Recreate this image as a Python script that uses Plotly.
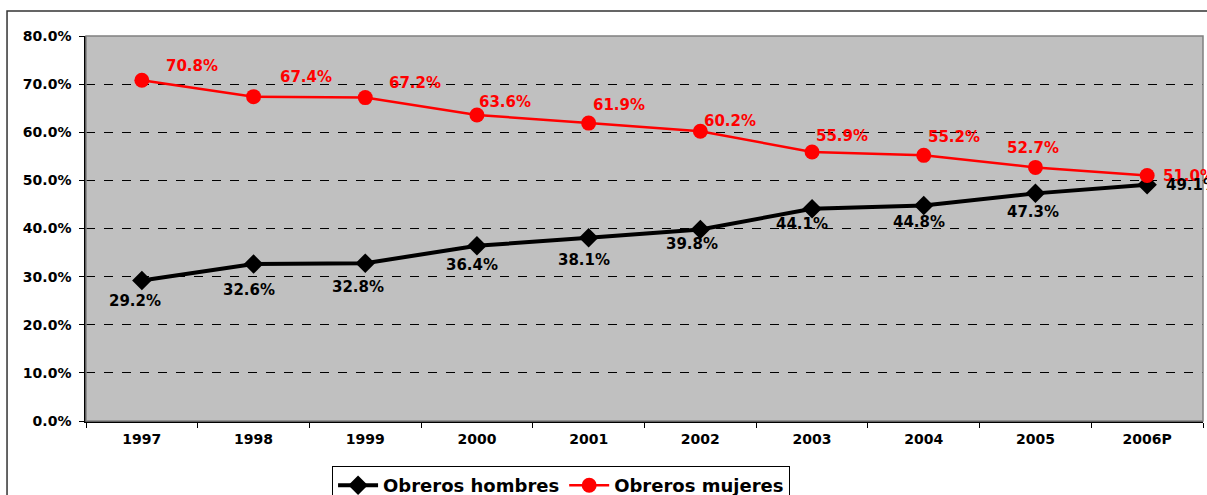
import plotly.graph_objects as go

years = ["1997", "1998", "1999", "2000", "2001", "2002", "2003", "2004", "2005", "2006P"]
hombres = [29.2, 32.6, 32.8, 36.4, 38.1, 39.8, 44.1, 44.8, 47.3, 49.1]
mujeres = [70.8, 67.4, 67.2, 63.6, 61.9, 60.2, 55.9, 55.2, 52.7, 51.0]
y_ticks = [0, 10, 20, 30, 40, 50, 60, 70, 80]

# label offsets (pixels) - styling only
muj_dx = [50, 52, 50, 28, 30, 30, 30, 30, -2, 42]
muj_dy = [14, 20, 15, 13, 18, 10, 16, 18, 19, 0]
hom_dx = [-7, -5, -7, -5, -5, -8, -10, -5, -2, 45]
hom_dy = [-21, -26, -24, -19, -22, -15, -15, -17, -19, 0]

FONT = "DejaVu Sans"
fig = go.Figure()
fig.add_trace(go.Scatter(
    x=years, y=hombres, name="Obreros hombres", mode="lines+markers",
    line=dict(color="black", width=4),
    marker=dict(symbol="diamond", size=15, color="black"),
))
fig.add_trace(go.Scatter(
    x=years, y=mujeres, name="Obreros mujeres", mode="lines+markers",
    line=dict(color="#FF0000", width=2.5),
    marker=dict(symbol="circle", size=15, color="#FF0000"),
))

# annotations on a category axis: use the category index as position
for i, v in enumerate(mujeres):
    fig.add_annotation(x=i, y=v, text=f"{v:.1f}%", showarrow=False,
                       xshift=muj_dx[i], yshift=muj_dy[i],
                       font=dict(family=FONT, size=15, color="#FF0000", weight="bold"))
for i, v in enumerate(hombres):
    fig.add_annotation(x=i, y=v, text=f"{v:.1f}%", showarrow=False,
                       xshift=hom_dx[i], yshift=hom_dy[i],
                       font=dict(family=FONT, size=15, color="black", weight="bold"))

# outer chart border (partially cropped)
fig.add_shape(type="rect", xref="paper", yref="paper",
              x0=-0.0707, x1=1.3, y0=-0.6, y1=1.0649,
              line=dict(color="#333333", width=1.5), layer="below")
# plot area border
fig.add_shape(type="rect", xref="paper", yref="paper",
              x0=0, x1=1, y0=0, y1=1,
              line=dict(color="#808080", width=1.5))

fig.update_layout(
    width=1207, height=495,
    margin=dict(l=86, r=4, t=36, b=74, autoexpand=False),
    paper_bgcolor="white", plot_bgcolor="#C0C0C0",
    font=dict(family=FONT, size=14, color="black"),
    showlegend=True,
    legend=dict(orientation="h", x=0.4253, xanchor="center", y=-0.117, yanchor="top",
                bordercolor="black", borderwidth=1, bgcolor="white",
                font=dict(family=FONT, size=18, color="black", weight="bold"),
                itemwidth=40, tracegroupgap=0),
    xaxis=dict(type="category", range=[-0.5, 9.5], showgrid=False,
               ticks="outside", tickson="boundaries", ticklen=5, tickcolor="black",
               ticklabelstandoff=4,
               showline=True, linecolor="black", linewidth=1.5,
               tickfont=dict(family=FONT, size=14, color="black", weight="bold")),
    yaxis=dict(range=[0, 80], tickvals=y_ticks,
               ticktext=[f"{t:.1f}%" for t in y_ticks],
               showgrid=True, gridcolor="black", gridwidth=1, griddash="dash",
               ticks="outside", ticklen=5, tickcolor="black",
               ticklabelstandoff=5,
               showline=True, linecolor="black", linewidth=1.5, zeroline=False,
               tickfont=dict(family=FONT, size=14, color="black", weight="bold")),
)

fig.write_html(
    "out.html",
    config={"displayModeBar": False},
    post_script="document.body.style.margin='0';document.body.style.overflow='hidden';",
)
